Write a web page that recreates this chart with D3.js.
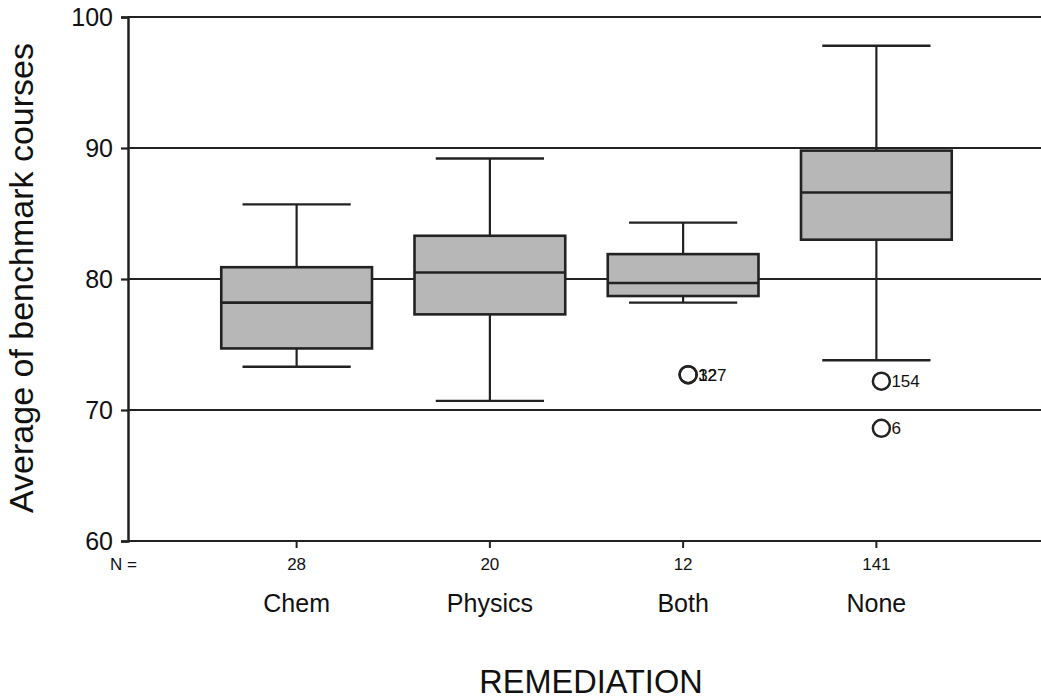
<!DOCTYPE html>
<html>
<head>
<meta charset="utf-8">
<script src="https://cdn.jsdelivr.net/npm/d3@7"></script>
<style>
  html, body { margin: 0; padding: 0; background: #fff; }
  svg { display: block; font-family: "Liberation Sans", Arial, sans-serif; }
</style>
</head>
<body>
<svg id="chart" width="1041" height="700"></svg>
<script>
// Benchmark course averages by remediation group
const categories = ["Chem", "Physics", "Both", "None"];
const counts = [28, 20, 12, 141];
const whiskerLow = [73.3, 70.7, 78.2, 73.8];
const q1 = [74.7, 77.3, 78.7, 83.0];
const medians = [78.2, 80.5, 79.7, 86.6];
const q3 = [80.9, 83.3, 81.9, 89.8];
const whiskerHigh = [85.7, 89.2, 84.3, 97.8];
const outliers = [
  { group: "Both", value: 72.7, id: "32" },
  { group: "Both", value: 72.7, id: "127" },
  { group: "None", value: 72.2, id: "154" },
  { group: "None", value: 68.6, id: "6" }
];
const yTicks = [60, 70, 80, 90, 100];

const svg = d3.select("#chart");
const ink = "#222";
const axisX = 128, plotRight = 1041;

const y = d3.scaleLinear().domain([60, 100]).range([541, 17]);
const x = d3.scaleBand().domain(categories).range([200, 973]).paddingInner(0).paddingOuter(0);
const cx = c => x(c) + x.bandwidth() / 2;
const boxW = x.bandwidth() * 0.78;
const capW = x.bandwidth() * 0.56;

// Horizontal reference lines at each tick
svg.append("g").selectAll("line").data(yTicks).join("line")
  .attr("x1", axisX).attr("x2", plotRight)
  .attr("y1", d => y(d)).attr("y2", d => y(d))
  .attr("stroke", ink).attr("stroke-width", 2.2);

// Short tick marks under each group
svg.append("g").selectAll("line").data(categories).join("line")
  .attr("x1", c => cx(c)).attr("x2", c => cx(c))
  .attr("y1", y(60)).attr("y2", y(60) + 7)
  .attr("stroke", ink).attr("stroke-width", 2);

// Left axis with outward ticks
const yAxis = d3.axisLeft(y).tickValues(yTicks).tickSize(7).tickPadding(8);
const gy = svg.append("g").attr("transform", `translate(${axisX},0)`).call(yAxis);
gy.select(".domain").attr("stroke", ink).attr("stroke-width", 2.5);
gy.selectAll(".tick line").attr("stroke", ink).attr("stroke-width", 2.2);
gy.selectAll(".tick text").attr("font-size", 25).attr("fill", "#111")
  .attr("font-family", "Liberation Sans, Arial, sans-serif");

// Boxes
const rows = categories.map((c, i) => ({
  c, lo: whiskerLow[i], q1: q1[i], med: medians[i], q3: q3[i], hi: whiskerHigh[i]
}));
const g = svg.append("g").selectAll("g").data(rows).join("g");

g.append("line").attr("x1", d => cx(d.c)).attr("x2", d => cx(d.c))
  .attr("y1", d => y(d.hi)).attr("y2", d => y(d.q3))
  .attr("stroke", ink).attr("stroke-width", 2.2);
g.append("line").attr("x1", d => cx(d.c)).attr("x2", d => cx(d.c))
  .attr("y1", d => y(d.q1)).attr("y2", d => y(d.lo))
  .attr("stroke", ink).attr("stroke-width", 2.2);
g.append("line").attr("x1", d => cx(d.c) - capW / 2).attr("x2", d => cx(d.c) + capW / 2)
  .attr("y1", d => y(d.hi)).attr("y2", d => y(d.hi))
  .attr("stroke", ink).attr("stroke-width", 2.4);
g.append("line").attr("x1", d => cx(d.c) - capW / 2).attr("x2", d => cx(d.c) + capW / 2)
  .attr("y1", d => y(d.lo)).attr("y2", d => y(d.lo))
  .attr("stroke", ink).attr("stroke-width", 2.4);
g.append("rect")
  .attr("x", d => cx(d.c) - boxW / 2).attr("width", boxW)
  .attr("y", d => y(d.q3)).attr("height", d => y(d.q1) - y(d.q3))
  .attr("fill", "#b7b7b7").attr("stroke", ink).attr("stroke-width", 2.6);
g.append("line").attr("x1", d => cx(d.c) - boxW / 2).attr("x2", d => cx(d.c) + boxW / 2)
  .attr("y1", d => y(d.med)).attr("y2", d => y(d.med))
  .attr("stroke", ink).attr("stroke-width", 2.6);

// Outliers with case labels (coincident cases print on top of each other)
const og = svg.append("g").selectAll("g").data(outliers).join("g")
  .attr("transform", d => `translate(${cx(d.group) + 5},${y(d.value)})`);
og.append("circle").attr("r", 8.5).attr("fill", "none").attr("stroke", ink).attr("stroke-width", 2.5);
og.append("text").text(d => d.id).attr("x", 10).attr("dy", "0.36em")
  .attr("font-size", 17).attr("fill", "#111");

// Group sizes
svg.append("text").text("N =").attr("x", 110).attr("y", 570)
  .attr("font-size", 17).attr("fill", "#111");
svg.append("g").selectAll("text").data(categories).join("text")
  .text((c, i) => counts[i]).attr("x", c => cx(c)).attr("y", 570)
  .attr("text-anchor", "middle").attr("font-size", 17).attr("fill", "#111");

// Category labels
svg.append("g").selectAll("text").data(categories).join("text")
  .text(c => c).attr("x", c => cx(c)).attr("y", 612)
  .attr("text-anchor", "middle").attr("font-size", 25).attr("fill", "#111");

// Axis titles
svg.append("text").text("REMEDIATION").attr("x", 591).attr("y", 693)
  .attr("text-anchor", "middle").attr("font-size", 32.5).attr("fill", "#111");
svg.append("text").text("Average of benchmark courses")
  .attr("transform", "translate(33,278) rotate(-90)")
  .attr("text-anchor", "middle").attr("font-size", 34).attr("fill", "#111");
</script>
</body>
</html>
